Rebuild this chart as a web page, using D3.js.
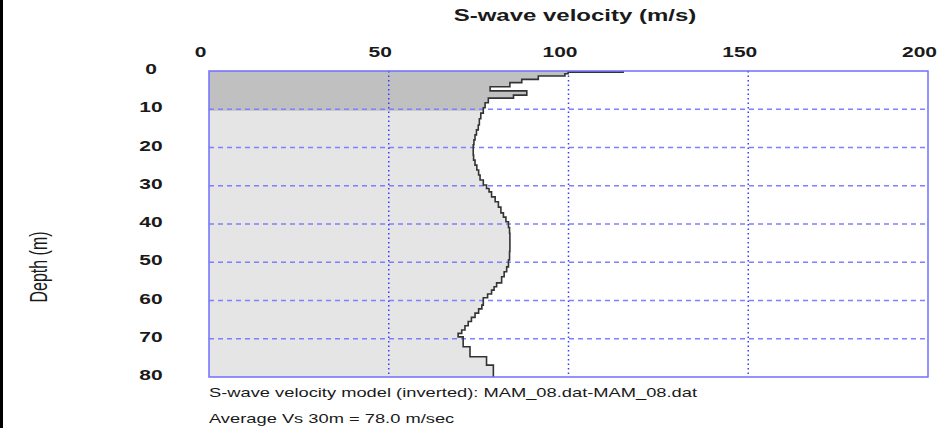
<!DOCTYPE html>
<html><head><meta charset="utf-8">
<script src="https://cdn.jsdelivr.net/npm/d3@7"></script>
<style>
html,body{margin:0;padding:0;background:#fff;}
svg{display:block;font-family:"Liberation Sans",Arial,sans-serif;}
</style></head>
<body>
<svg id="c" width="951" height="428"></svg>
<script>
// Layer top depths (m) and S-wave velocities (m/s)
const layerTop = [0,0.3,0.7,1.3,2.2,3.05,4.1,5.2,6.3,7.1,8.3,9.6,11.0,12.5,14.1,15.4,16.7,18.0,19.3,22.0,23.3,24.6,25.9,27.2,28.5,29.8,30.7,31.6,32.9,34.2,35.6,37.1,38.2,39.4,40.9,42.4,45.0,47.2,49.4,51.2,52.5,53.8,55.4,56.4,57.3,58.3,59.3,61.2,62.2,63.3,64.4,65.5,66.6,67.7,68.6,69.5,72.1,74.7,76.9];
const layerVs  = [115.2,99.9,99.0,91.6,87.0,83.7,78.2,88.4,84.7,77.7,76.8,76.3,75.6,75.2,74.9,74.4,74.0,73.7,73.5,73.6,74.0,74.5,75.0,75.4,76.3,77.2,77.9,78.6,79.6,80.5,81.2,81.9,82.6,83.3,83.6,83.7,83.7,83.6,83.3,82.8,82.1,81.4,80.0,79.3,78.6,77.5,76.3,75.9,75.0,74.0,73.0,72.1,71.2,70.3,69.3,70.7,72.6,77.2,79.1];
const maxDepth = 80;
const xTicks = [0,50,100,150,200];
const yTicks = [0,10,20,30,40,50,60,70,80];
const xGrid = [50,100,150];
const yGrid = [10,20,30,40,50,60,70];
const invertedDepth = 10.4;
const titleText = "S-wave velocity (m/s)";
const yLabel = "Depth (m)";
const note1 = "S-wave velocity model (inverted): MAM_08.dat-MAM_08.dat";
const note2 = "Average Vs 30m = 78.0 m/sec";

const svg = d3.select("#c");
const x = d3.scaleLinear().domain([0,200]).range([209,928]);
const y = d3.scaleLinear().domain([0,80]).range([71,377]);
const SX = 1.5; // horizontal stretch of text in the reference

svg.append("rect").attr("x",0).attr("y",0).attr("width",3).attr("height",428).attr("fill","#000");

// step points
const pts = [];
layerTop.forEach((top,i)=>{
  const bot = i+1<layerTop.length ? layerTop[i+1] : maxDepth;
  pts.push([layerVs[i], top]);
  pts.push([layerVs[i], bot]);
});
const area = [[0,0], ...pts, [0,maxDepth]];
const line = d3.line().x(d=>x(d[0])).y(d=>y(d[1]));

const defs = svg.append("defs");
defs.append("clipPath").attr("id","inv").append("rect")
  .attr("x",x(0)).attr("y",y(0)).attr("width",x(200)-x(0)).attr("height",y(invertedDepth)-y(0));

svg.append("path").attr("d", line(area)+"Z").attr("fill","#e5e5e5");
svg.append("path").attr("d", line(area)+"Z").attr("fill","#c0c0c0").attr("clip-path","url(#inv)");

// grid
svg.selectAll(".hg").data(yGrid).join("line")
  .attr("x1",x(0)).attr("x2",x(200)).attr("y1",d=>y(d)).attr("y2",d=>y(d))
  .attr("stroke","#7f7fff").attr("stroke-width",1.5).attr("stroke-dasharray","5,4");
svg.selectAll(".vg").data(xGrid).join("line")
  .attr("x1",d=>x(d)).attr("x2",d=>x(d)).attr("y1",y(0)).attr("y2",y(80))
  .attr("stroke","#3b3bff").attr("stroke-width",1.5).attr("stroke-dasharray","1.5,3");

// profile
svg.append("path").attr("d", line(pts)).attr("fill","none").attr("stroke","#333").attr("stroke-width",1.6);

// frame
svg.append("rect").attr("x",x(0)).attr("y",y(0)).attr("width",x(200)-x(0)).attr("height",y(80)-y(0))
  .attr("fill","none").attr("stroke","#6f6fff").attr("stroke-width",1.5);

// axes tick labels
svg.selectAll(".xt").data(xTicks).join("text")
  .attr("transform",d=>`translate(${x(d)-8.5},57) scale(${SX},1)`)
  .attr("text-anchor","middle").attr("font-size",14).attr("font-weight","bold").attr("fill","#1a1a1a")
  .text(d=>d);
svg.selectAll(".yt").data(yTicks).join("text")
  .attr("transform",d=>`translate(151,${y(d)+3}) scale(${SX},1)`)
  .attr("text-anchor","middle").attr("font-size",14).attr("font-weight","bold").attr("fill","#1a1a1a")
  .text(d=>d);

svg.append("text").attr("transform",`translate(575,21) scale(${SX},1)`)
  .attr("text-anchor","middle").attr("font-size",16).attr("font-weight","bold").attr("fill","#1a1a1a").text(titleText);
svg.append("text").attr("transform",`translate(47,267) scale(${SX},1) rotate(-90)`)
  .attr("text-anchor","middle").attr("font-size",16).attr("fill","#1a1a1a").text(yLabel);
svg.append("text").attr("transform",`translate(209,397) scale(${SX},1)`)
  .attr("font-size",12.2).attr("fill","#1a1a1a").text(note1);
svg.append("text").attr("transform",`translate(209,423) scale(${SX},1)`)
  .attr("font-size",12.2).attr("fill","#1a1a1a").text(note2);
</script>
</body></html>
